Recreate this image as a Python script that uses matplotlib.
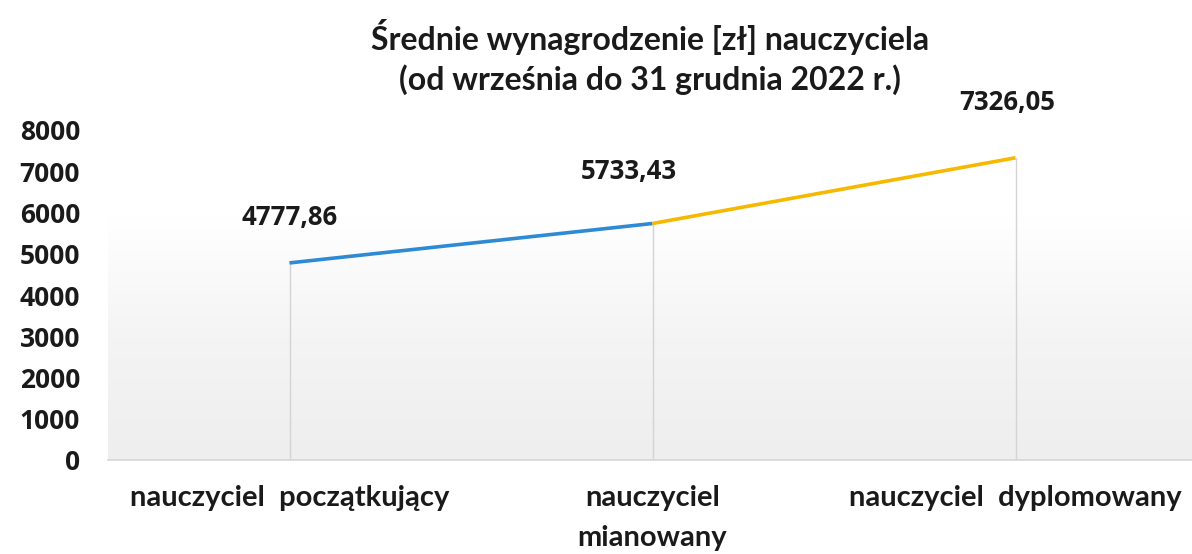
import numpy as np
import matplotlib
matplotlib.use("Agg")
import matplotlib.pyplot as plt
from matplotlib.colors import LinearSegmentedColormap

# Average teacher salary by career level (PLN)
categories = ["nauczyciel  początkujący", "nauczyciel\nmianowany", "nauczyciel  dyplomowany"]
salaries = [4777.86, 5733.43, 7326.05]
value_labels = ["4777,86", "5733,43", "7326,05"]
y_ticks = [0, 1000, 2000, 3000, 4000, 5000, 6000, 7000, 8000]
title = "Średnie wynagrodzenie [zł] nauczyciela\n(od września do 31 grudnia 2022 r.)"

W, H = 1192, 554
fig = plt.figure(figsize=(W / 100, H / 100), dpi=100)
fig.patch.set_facecolor("white")

left, right, base, top = 108, 1197, 460, 130
ax = fig.add_axes([left / W, (H - base) / H, (right - left) / W, (base - top) / H])
ax.set_xlim(-0.5, 2.5)
ax.set_ylim(0, 8000)
ax.set_facecolor("white")

# soft grey gradient panel behind the lines
grad = np.linspace(0, 1, 256).reshape(-1, 1)
cmap = LinearSegmentedColormap.from_list("panel", ["#eeeeee", "#f4f4f4", "#ffffff"])
ax.imshow(grad, cmap=cmap, aspect="auto", origin="lower",
          extent=(-0.5, 2.5, 0, 5900), zorder=0, interpolation="bicubic")

x = np.arange(len(categories))

# drop lines from each point to the baseline
for xi, yi in zip(x, salaries):
    ax.plot([xi, xi], [0, yi], color="#d4d4d4", lw=1.0, zorder=1)

# two coloured segments
ax.plot(x[:2], salaries[:2], color="#2f8ad4", lw=2.6, solid_capstyle="butt", zorder=3)
ax.plot(x[1:], salaries[1:], color="#f7b800", lw=2.6, solid_capstyle="butt", zorder=3)

label_dx = [0, -24, -8]
label_dy = [45, 52, 55]
for xi, yi, lab, dx, dy in zip(x, salaries, value_labels, label_dx, label_dy):
    ax.annotate(lab, (xi, yi), xytext=(dx * 0.72, dy * 0.72), textcoords="offset points",
                ha="center", va="center", fontsize=18.5, fontweight="bold",
                family="Open Sans", color="#1a1a1a", zorder=4)

for s in ["top", "right", "left"]:
    ax.spines[s].set_visible(False)
ax.spines["bottom"].set_color("#d6d6d6")
ax.spines["bottom"].set_linewidth(1.2)

ax.set_yticks(y_ticks)
ax.set_yticklabels([str(v) for v in y_ticks], fontsize=19, fontweight="bold",
                   family="Open Sans", color="#1a1a1a")
ax.tick_params(axis="y", length=0, pad=20)

ax.set_xticks(x)
ax.set_xticklabels(categories, fontsize=21, fontweight="bold", family="Lato",
                   color="#1a1a1a", linespacing=1.65)
ax.tick_params(axis="x", length=0, pad=18)

fig.text(0.545, 0.897, title, ha="center", va="center", fontsize=23,
         fontweight="bold", family="Lato", color="#1a1a1a", linespacing=1.35)

fig.savefig("out.png", dpi=100)
